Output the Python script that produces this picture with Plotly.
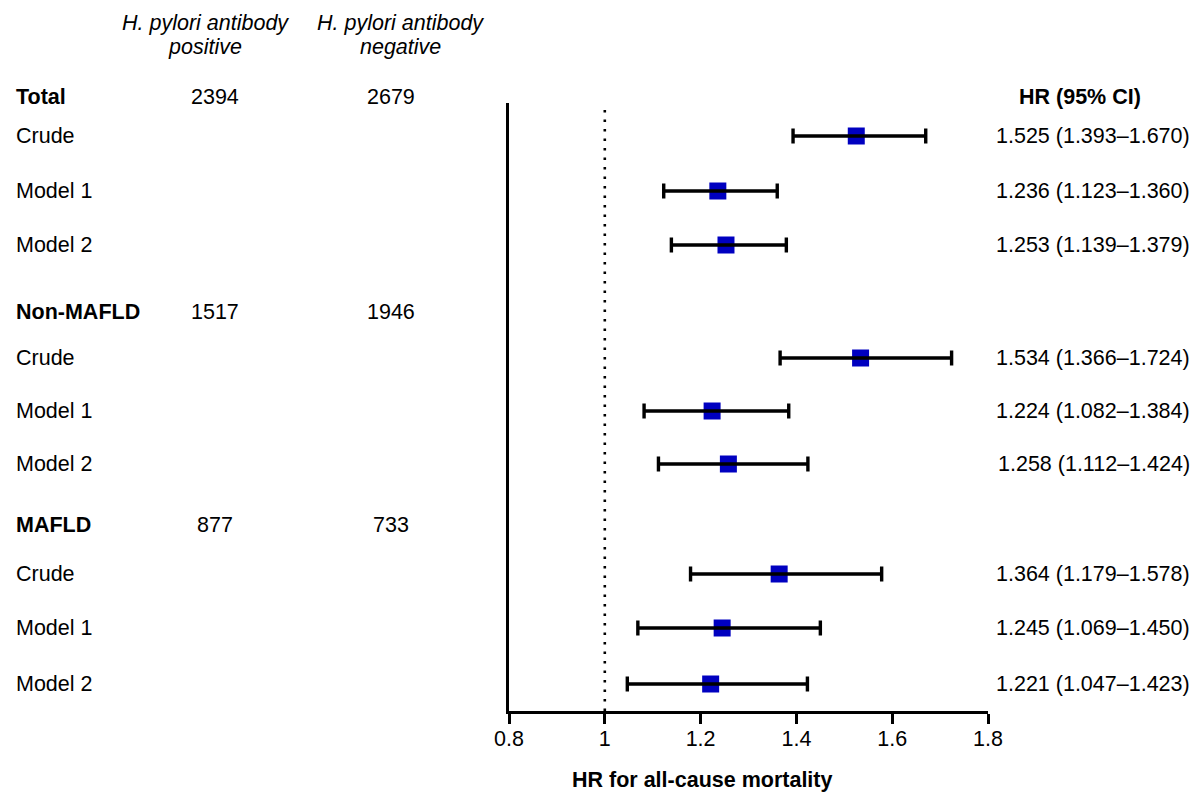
import plotly.graph_objects as go

# ---------------- data ----------------
groups = ["Total", "Non-MAFLD", "MAFLD"]
n_positive = [2394, 1517, 877]
n_negative = [2679, 1946, 733]
models = ["Crude", "Model 1", "Model 2"]
hr = [1.525, 1.236, 1.253, 1.534, 1.224, 1.258, 1.364, 1.245, 1.221]
ci_low = [1.393, 1.123, 1.139, 1.366, 1.082, 1.112, 1.179, 1.069, 1.047]
ci_high = [1.670, 1.360, 1.379, 1.724, 1.384, 1.424, 1.578, 1.450, 1.423]
x_ticks = [0.8, 1.0, 1.2, 1.4, 1.6, 1.8]
x_tick_labels = ["0.8", "1", "1.2", "1.4", "1.6", "1.8"]

# ---------------- layout constants (page pixels) ----------------
OFF = 8  # default body margin of the html page
W, H = 1201 - OFF, 794 - OFF
PX_L, PX_R, PY_B, PY_T = 509 - OFF, 988 - OFF, 711 - OFF, 103 - OFF
group_y = [97, 312, 525]
row_y = [136, 191, 245, 358, 411, 464, 574, 628, 684]
FONT = "Liberation Sans, Arial, sans-serif"
FS = 21.5


def px(x):
    return (x - OFF - PX_L) / (PX_R - PX_L)


def py(y):
    return (PY_B - (y - OFF)) / (PY_B - PY_T)


row_labels = [m for _ in groups for m in models]
ci_text = [f"{h:.3f} ({l:.3f}\u2013{u:.3f})" for h, l, u in zip(hr, ci_low, ci_high)]
row_pos = [r - OFF for r in row_y]

fig = go.Figure()

# markers
fig.add_trace(go.Scatter(
    x=hr, y=row_pos, mode="markers",
    marker=dict(symbol="square", size=17, color="#0000C0", line=dict(width=0)),
    showlegend=False, hoverinfo="skip",
))
# error bars drawn on top of the markers
fig.add_trace(go.Scatter(
    x=hr, y=row_pos, mode="markers",
    marker=dict(size=0.1, color="rgba(0,0,0,0)"),
    error_x=dict(type="data", symmetric=False,
                 array=[u - h for h, u in zip(hr, ci_high)],
                 arrayminus=[h - l for h, l in zip(hr, ci_low)],
                 color="black", thickness=3.4, width=7.5),
    showlegend=False, hoverinfo="skip",
))

# dotted reference line at HR = 1
fig.add_shape(type="line", xref="x", yref="paper", x0=1, x1=1, y0=0, y1=py(105),
              line=dict(color="black", width=2.6, dash="2.6px,6.9px"), layer="below")

ann = []


def txt(xp, yp, s, anchor="left", bold=False, italic=False, size=FS):
    ann.append(dict(
        xref="paper", yref="paper", x=px(xp), y=py(yp), text=s, showarrow=False,
        xanchor=anchor, yanchor="middle",
        font=dict(family=FONT, size=size, color="black",
                  weight="bold" if bold else "normal",
                  style="italic" if italic else "normal"),
    ))


# column headers
txt(205, 23, "H. pylori antibody", "center", italic=True)
txt(205, 47, "positive", "center", italic=True)
txt(400, 23, "H. pylori antibody", "center", italic=True)
txt(400, 47, "negative", "center", italic=True)
txt(1080, 97, "HR (95% CI)", "center", bold=True)

for g, gy, npos, nneg in zip(groups, group_y, n_positive, n_negative):
    txt(14, gy, g, "left", bold=True)
    txt(215, gy, str(npos), "center")
    txt(391, gy, str(nneg), "center")

for lab, ry, ct in zip(row_labels, row_y, ci_text):
    txt(14, ry, lab, "left")
    txt(1192, ry, ct, "right")

txt(702, 780, "HR for all-cause mortality", "center", bold=True)

fig.update_layout(
    width=W, height=H,
    margin=dict(l=PX_L, r=W - PX_R, t=PY_T, b=H - PY_B, pad=0),
    paper_bgcolor="white", plot_bgcolor="white",
    annotations=ann,
    xaxis=dict(range=[0.8, 1.8], tickvals=x_ticks, ticktext=x_tick_labels,
               showline=True, linecolor="black", linewidth=3,
               ticks="outside", ticklen=10, tickwidth=3, tickcolor="black",
               ticklabelstandoff=-4,
               tickfont=dict(family=FONT, size=FS, color="black"),
               showgrid=False, zeroline=False, fixedrange=True),
    yaxis=dict(range=[PY_B, PY_T], showline=True, linecolor="black", linewidth=3,
               showticklabels=False, ticks="", showgrid=False, zeroline=False,
               fixedrange=True),
)

fig.write_html("out.html")
